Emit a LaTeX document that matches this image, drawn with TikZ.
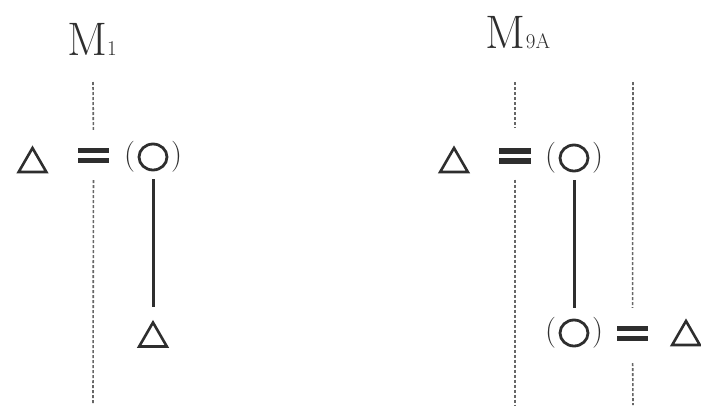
\documentclass[tikz,border=0pt]{standalone}
\usetikzlibrary{shapes.geometric}
\definecolor{ink}{HTML}{2E2E2E}
\definecolor{dashc}{HTML}{666666}
\begin{document}
\begin{tikzpicture}[x=1pt,y=-1pt,
  male/.style={regular polygon, regular polygon sides=3, draw=ink, line width=2.6pt, minimum size=32pt, inner sep=0pt},
  female/.style={ellipse, draw=ink, line width=2.8pt, minimum width=28pt, minimum height=26pt, inner sep=0pt},
  paren/.style={inner sep=0pt, font=\fontsize{31}{31}\selectfont, text=ink},
  eqbox/.style={minimum width=31pt, minimum height=15pt, inner sep=0pt},
  kin/.style={draw=dashc, line width=1.6pt, dash pattern=on 3pt off 2pt},
  descent/.style={draw=ink, line width=3pt},
  title/.style={font=\fontsize{47}{47}\selectfont, text=ink, inner sep=0pt, anchor=base}]
\useasboundingbox (0,0) rectangle (701,405);

% titles
\node[title] (m1) at (92,55) {M{\fontsize{21}{21}\selectfont 1}};
\node[title] (m2) at (518,48) {M{\fontsize{21}{21}\selectfont 9A}};

% left group
\node[male] (t1) at (32.5,164) {};
\node[eqbox] (eq1) at (93.5,155.5) {};
\node[female] (o1) at (153,157) {};
\node[paren] (o1l) at (129.5,157) {(};
\node[paren] (o1r) at (176.5,157) {)};
\node[male] (t2) at (153,338.5) {};

% right group
\node[male] (t3) at (454,164) {};
\node[eqbox] (eq2) at (515,156) {};
\node[female] (o2) at (574,158) {};
\node[paren] (o2l) at (550.5,158) {(};
\node[paren] (o2r) at (597.5,158) {)};
\node[female] (o3) at (574,333) {};
\node[paren] (o3l) at (550.5,333) {(};
\node[paren] (o3r) at (597.5,333) {)};
\node[eqbox] (eq3) at (632.5,333.5) {};
\node[male] (t4) at (686,337) {};

% equals bars
\foreach \e in {eq1,eq2,eq3}{
  \fill[ink] (\e.north west) rectangle ([yshift=-5.5pt]\e.north east);
  \fill[ink] (\e.south west) rectangle ([yshift=5.5pt]\e.south east);
}

% dashed generation lines
\coordinate (a1) at (93,82);   \coordinate (b1) at (93,405);
\coordinate (a2) at (515,82);  \coordinate (b2) at (515,405);
\coordinate (a3) at (633,82);  \coordinate (b3) at (633,405);
\draw[kin, shorten >=18pt] (a1) -- (eq1.north);
\draw[kin, shorten <=17pt] (eq1.south) -- (b1);
\draw[kin, shorten >=20pt] (a2) -- (eq2.north);
\draw[kin, shorten <=16pt] (eq2.south) -- (b2);
\draw[kin, shorten >=18pt] (a3) -- (eq3.north);
\draw[kin, shorten <=22pt] (eq3.south) -- (b3);

% descent lines
\draw[descent, shorten <=8pt, shorten >=13pt] (o1.south) -- (t2.north);
\draw[descent, shorten <=8pt, shorten >=11pt] (o2.south) -- (o3.north);
\end{tikzpicture}
\end{document}
